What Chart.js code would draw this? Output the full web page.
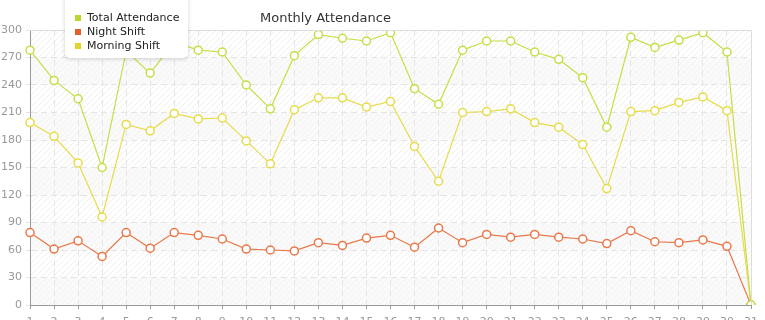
<!DOCTYPE html>
<html>
<head>
<meta charset="utf-8">
<script src="https://cdn.jsdelivr.net/npm/chart.js@4"></script>
<style>
  html, body { margin: 0; padding: 0; background: #fff; }
  #wrap { width: 765px; height: 320px; position: relative; }
</style>
</head>
<body>
<div id="wrap"><canvas id="attendanceChart"></canvas></div>
<script>
const days = ["1","2","3","4","5","6","7","8","9","10","11","12","13","14","15","16","17","18","19","20","21","22","23","24","25","26","27","28","29","30","31"];
const totalAttendance = [278, 245, 225, 150, 277, 253, 287, 278, 276, 240, 214, 272, 295, 291, 288, 297, 236, 219, 278, 288, 288, 276, 268, 248, 194, 292, 281, 289, 297, 276, 0];
const nightShift = [79, 61, 70, 53, 79, 62, 79, 76, 72, 61, 60, 59, 68, 65, 73, 76, 63, 84, 68, 77, 74, 77, 74, 72, 67, 81, 69, 68, 71, 64, 0];
const morningShift = [199, 184, 155, 96, 197, 190, 209, 203, 204, 179, 154, 213, 226, 226, 216, 222, 173, 135, 210, 211, 214, 199, 194, 175, 127, 211, 212, 221, 227, 212, 0];
const yTicks = [0, 30, 60, 90, 120, 150, 180, 210, 240, 270, 300];

const seriesNames = ["Total Attendance", "Night Shift", "Morning Shift"];
const markerColors = ["#bcd62e", "#e0622a", "#e2d42a"];
const lineColors = ["#c6de46", "#e9784a", "#e6dc4a"];

const FONT = "'DejaVu Sans', Verdana, sans-serif";

// diagonal hatch used for plot background
function makeHatch(bg, line) {
  const c = document.createElement("canvas");
  c.width = 6; c.height = 6;
  const g = c.getContext("2d");
  g.fillStyle = bg;
  g.fillRect(0, 0, 6, 6);
  g.strokeStyle = line;
  g.lineWidth = 1;
  g.beginPath();
  g.moveTo(0, 6); g.lineTo(6, 0);
  g.moveTo(-3, 3); g.lineTo(3, -3);
  g.moveTo(3, 9); g.lineTo(9, 3);
  g.stroke();
  return c;
}

const backgroundBands = {
  id: "backgroundBands",
  beforeDraw(chart) {
    const { ctx, chartArea: a, scales } = chart;
    const y = scales.y;
    const strong = ctx.createPattern(makeHatch("#ffffff", "#eeeeee"), "repeat");
    const soft = ctx.createPattern(makeHatch("#fafafa", "#f3f3f3"), "repeat");
    ctx.save();
    for (let i = 0; i < yTicks.length - 1; i++) {
      const top = y.getPixelForValue(yTicks[i + 1]);
      const bottom = y.getPixelForValue(yTicks[i]);
      ctx.fillStyle = (i % 2 === 1) ? strong : soft;
      ctx.fillRect(a.left, top, a.right - a.left, bottom - top);
    }
    ctx.restore();
  },
  afterDraw(chart) {
    const { ctx, chartArea: a } = chart;
    ctx.save();
    // light frame at top and right
    ctx.strokeStyle = "#dddddd";
    ctx.lineWidth = 1;
    ctx.beginPath();
    ctx.moveTo(a.left, a.top + 0.5);
    ctx.lineTo(a.right + 0.5, a.top + 0.5);
    ctx.lineTo(a.right + 0.5, a.bottom);
    ctx.stroke();

    // title
    ctx.fillStyle = "#333333";
    ctx.font = "13px " + FONT;
    ctx.textBaseline = "alphabetic";
    ctx.textAlign = "left";
    ctx.fillText("Monthly Attendance", 260, 22);

    // floating legend box
    ctx.shadowColor = "rgba(0,0,0,0.18)";
    ctx.shadowBlur = 4;
    ctx.shadowOffsetY = 1;
    ctx.fillStyle = "#ffffff";
    ctx.beginPath();
    ctx.roundRect(65, -6, 123, 64, 5);
    ctx.fill();
    ctx.shadowColor = "transparent";

    ctx.font = "11px " + FONT;
    ctx.textBaseline = "middle";
    seriesNames.forEach((name, i) => {
      const cy = 18 + i * 14;
      ctx.fillStyle = markerColors[i];
      ctx.fillRect(75, cy - 3, 6, 6);
      ctx.fillStyle = "#222222";
      ctx.fillText(name, 87, cy);
    });
    ctx.restore();
  }
};

function makeDataset(label, data, color) {
  return {
    label: label,
    data: data,
    borderColor: color,
    borderWidth: 1.2,
    backgroundColor: "#ffffff",
    pointBackgroundColor: "#ffffff",
    pointBorderColor: color,
    pointBorderWidth: 1.5,
    pointRadius: 4,
    tension: 0,
    fill: false
  };
}

const ctx = document.getElementById("attendanceChart").getContext("2d");
new Chart(ctx, {
  type: "line",
  data: {
    labels: days,
    datasets: [
      makeDataset(seriesNames[0], totalAttendance, lineColors[0]),
      makeDataset(seriesNames[1], nightShift, lineColors[1]),
      makeDataset(seriesNames[2], morningShift, lineColors[2])
    ]
  },
  options: {
    responsive: true,
    maintainAspectRatio: false,
    animation: false,
    layout: { padding: { top: 30, right: 14, left: 0, bottom: 0 } },
    plugins: {
      legend: { display: false },
      title: { display: false },
      tooltip: { enabled: false }
    },
    scales: {
      x: {
        offset: false,
        grid: { color: "#e4e4e4", tickColor: "#999999", tickLength: 4, drawOnChartArea: true },
        border: { color: "#999999", width: 1, dash: [6, 4] },
        ticks: {
          color: "#999999",
          font: { family: FONT, size: 11 },
          padding: 7,
          maxRotation: 0,
          autoSkip: false
        },
        afterFit: s => { s.height = 15; }
      },
      y: {
        min: 0,
        max: 300,
        grid: { color: "#e4e4e4", tickColor: "#e4e4e4", tickLength: 4 },
        border: { color: "#999999", width: 1, dash: [6, 4] },
        afterBuildTicks: s => { s.ticks = yTicks.map(v => ({ value: v })); },
        ticks: {
          color: "#999999",
          font: { family: FONT, size: 11 },
          padding: 4
        },
        afterFit: s => { s.width = 30; }
      }
    }
  },
  plugins: [backgroundBands]
});
</script>
</body>
</html>
